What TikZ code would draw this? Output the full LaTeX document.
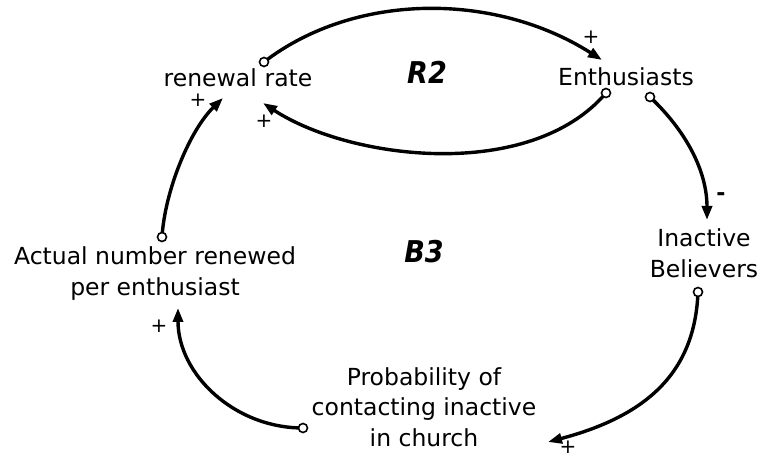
\documentclass[tikz,border=0pt]{standalone}
\usepackage{fontspec}
\setmainfont{DejaVu Sans}
\usetikzlibrary{arrows.meta}
\newcommand\mylines[1]{\vtop{\baselineskip=31pt\halign{\hfil##\hfil\cr#1\crcr}}}
\tikzset{
  lbl/.style={font=\fontsize{23.5}{31}\selectfont, inner sep=0pt, anchor=base},
  sgn/.style={font=\fontsize{20}{20}\selectfont, inner sep=0pt},
  loopname/.style={font=\fontsize{30}{30}\selectfont\itshape, inner sep=0pt},
  link/.style={line width=3.4pt, -{Triangle[length=14pt,width=10pt]}},
  tail/.style={circle, draw, fill=white, line width=1.6pt, inner sep=0pt, minimum size=9pt}
}
\begin{document}
\begin{tikzpicture}[x=1pt,y=-1pt]
\useasboundingbox (0,0) rectangle (764,457);
% variables
\node[lbl] (rr) at (238,87) {renewal\,\,rate};
\node[lbl] (en) at (626,86) {Enthusiasts};
\node[lbl] (ib) at (704,247) {\mylines{Inactive\cr Believers}};
\node[lbl] (an) at (155,265) {\mylines{Actual number renewed\cr per enthusiast}};
\node[lbl] (pc) at (424,385) {\mylines{Probability of\cr contacting inactive\cr in church}};
% loop names
\node[loopname] (r2) at (427,72) {\scalebox{0.9}[1]{\textbf{R2}}};
\node[loopname] (b3) at (424,252) {\scalebox{0.9}[1]{\textbf{B3}}};
% endpoints
\coordinate (rrTop) at (264,62);
\coordinate (enIn) at (602,60);
\coordinate (enL) at (606,93);
\coordinate (rrIn) at (263,103);
\coordinate (enR) at (650,97);
\coordinate (ibIn) at (707,220);
\coordinate (ibOut) at (698,292);
\coordinate (pcIn) at (548,442);
\coordinate (pcOut) at (303,428);
\coordinate (anIn) at (178,308);
\coordinate (anOut) at (162,237);
\coordinate (rrIn2) at (223,98);
% connectors
\draw[link] (rrTop) .. controls (355,-8) and (495,-8) .. (enIn);
\draw[link] (enL) .. controls (530,182) and (350,160) .. (rrIn);
\draw[link] (enR) .. controls (685,130) and (707,170) .. (ibIn);
\draw[link] (ibOut) .. controls (695,370) and (650,415) .. (pcIn);
\draw[link] (pcOut) .. controls (234,428) and (178,374) .. (anIn);
\draw[link] (anOut) .. controls (165,190) and (190,130) .. (rrIn2);
% tails
\node[tail] (t1) at (rrTop) {};
\node[tail] (t2) at (enL) {};
\node[tail] (t3) at (enR) {};
\node[tail] (t4) at (ibOut) {};
\node[tail] (t5) at (pcOut) {};
\node[tail] (t6) at (anOut) {};
% polarity signs
\node[sgn] (s1) at (591,37) {+};
\node[sgn] (s2) at (264,121) {+};
\node[sgn] (s3) at (198,100) {+};
\node[sgn, font=\fontsize{22}{22}\selectfont\bfseries] (s4) at (721,197) {-};
\node[sgn] (s5) at (568,447) {+};
\node[sgn] (s6) at (159,326) {+};
\end{tikzpicture}
\end{document}
